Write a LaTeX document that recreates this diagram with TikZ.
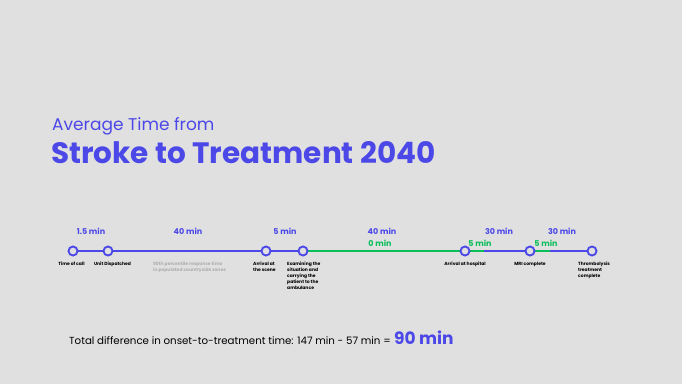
\documentclass[tikz,border=0pt]{standalone}
\usepackage{fontspec}
\setmainfont{Poppins}
\definecolor{bg}{RGB}{224,224,224}
\definecolor{bl}{RGB}{76,72,232}
\definecolor{gr}{RGB}{10,190,90}
\definecolor{gy}{RGB}{175,175,175}
\begin{document}
\begin{tikzpicture}[x=1pt,y=-1pt,
  dot/.style={circle,draw=bl,line width=1.9pt,fill=bg,minimum size=9pt,inner sep=0pt},
  seg/.style={line width=2.3pt},
  tm/.style={font=\bfseries\fontsize{8}{9}\selectfont,text=bl,inner sep=0pt},
  tg/.style={font=\bfseries\fontsize{8}{9}\selectfont,text=gr,inner sep=0pt},
  lab/.style={font=\bfseries\fontsize{4.5}{5.9}\selectfont,inner sep=0pt,anchor=north},
  labl/.style={font=\bfseries\fontsize{4.5}{5.9}\selectfont,inner sep=0pt,anchor=north west,align=left}]
\fill[bg] (0,0) rectangle (682,384);
\useasboundingbox (0,0) rectangle (682,384);
\node[anchor=base west,inner sep=0pt,text=bl,font=\fontsize{17}{18}\selectfont] (t1) at (52,130) {Average Time from};
\node[anchor=base west,inner sep=0pt,text=bl,font=\bfseries\fontsize{29.5}{30}\selectfont] (t2) at (51,163) {Stroke to Treatment 2040};
% coordinates
\coordinate (p1) at (73,251);
\coordinate (p2) at (108,251);
\coordinate (p3) at (266,251);
\coordinate (p4) at (303,251);
\coordinate (p5) at (465,251);
\coordinate (g1) at (484,251);
\coordinate (p6) at (530,251);
\coordinate (g2) at (550,251);
\coordinate (p7) at (592,251);
\draw[seg,bl] (p1) -- (p4);
\draw[seg,gr] (p4) -- (g1);
\draw[seg,bl] (g1) -- (p6);
\draw[seg,gr] (p6) -- (g2);
\draw[seg,bl] (g2) -- (p7);
\foreach \i in {1,...,7} \node[dot] (d\i) at (p\i) {};
% durations
\node[tm] (m1) at (91,231) {1.5 min};
\node[tm] (m2) at (188,231) {40 min};
\node[tm] (m3) at (285,231) {5 min};
\node[tm] (m4) at (382,231) {40 min};
\node[tg] (m5) at (380,243) {0 min};
\node[tm] (m6) at (499,231) {30 min};
\node[tg] (m7) at (480,243) {5 min};
\node[tm] (m8) at (562,231) {30 min};
\node[tg] (m9) at (546,243) {5 min};
% labels
\node[lab] (l1) at (71.5,262) {Time of call};
\node[lab] (l2) at (112.5,262) {Unit Dispatched};
\node[labl,text=gy] (l3) at (153,262) {90th percentile response time\\in populated countryside zones};
\node[labl] (l4) at (253,262) {Arrival at\\the scene};
\node[labl] (l5) at (287,262) {Examining the\\situation and\\carrying the\\patient to the\\ambulance};
\node[lab] (l6) at (465,262) {Arrival at hospital};
\node[lab] (l7) at (530,262) {MRI complete};
\node[labl] (l8) at (578,262) {Thrombolysis\\treatment\\complete};
% total
\node[anchor=base west,inner sep=0pt,font=\fontsize{10.25}{12}\selectfont] (tot) at (69,344) {Total difference in onset-to-treatment time: 147 min - 57 min =};
\node[anchor=base west,inner sep=0pt,text=bl,font=\bfseries\fontsize{17}{18}\selectfont] (res) at ([xshift=3pt]tot.base east) {90 min};
\end{tikzpicture}
\end{document}
